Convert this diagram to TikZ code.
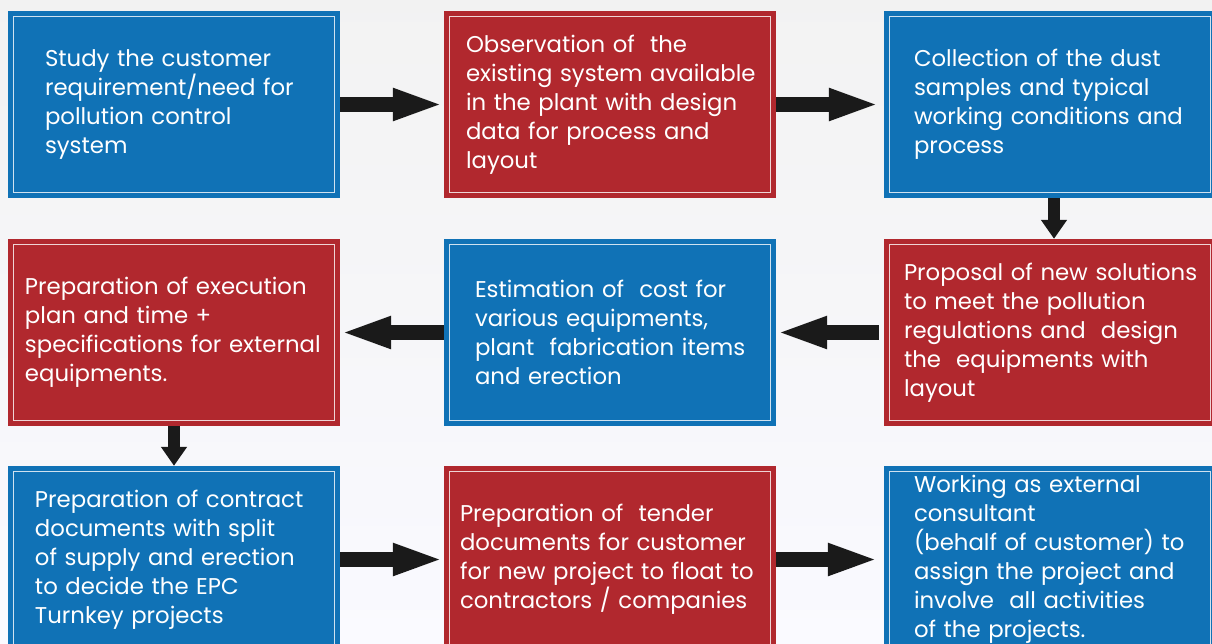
\documentclass[tikz,border=0pt]{standalone}
\usepackage{fontspec}
\setmainfont{Poppins}
\usetikzlibrary{arrows.meta}
\definecolor{stepblue}{RGB}{16,114,182}
\definecolor{stepred}{RGB}{177,40,46}
\definecolor{arrowgray}{RGB}{26,26,26}
\tikzset{
  stepbox/.style={rectangle, draw=none, minimum width=332pt, minimum height=187pt,
    inner xsep=0pt, inner ysep=0pt, text width=332pt, text=white, align=left,
    font=\fontsize{22.8}{29}\selectfont,
    path picture={\draw[white, opacity=.8, line width=1pt]
      ([shift={(5.5pt,5.5pt)}]path picture bounding box.south west) rectangle
      ([shift={(-5.5pt,-5.5pt)}]path picture bounding box.north east);}},
  bluebox/.style={stepbox, fill=stepblue},
  redbox/.style={stepbox, fill=stepred},
  indent/.style={execute at begin node={\leftskip=#1\relax\hyphenpenalty=10000\relax}},
  flowarrow/.style={draw=arrowgray, line width=15pt,
    -{Triangle[length=51pt,width=29pt]}, arrowgray},
  downarrow/.style={draw=arrowgray, line width=12.5pt,
    -{Triangle[length=19pt,width=25pt]}, arrowgray}
}
\begin{document}
\begin{tikzpicture}[x=1pt,y=1pt]
  \shade[top color=black!5, bottom color=blue!2!white] (0,0) rectangle (1212,-643);
  \useasboundingbox (0,0) rectangle (1212,-643);

  % first row
  \node[bluebox, indent=37pt] (study) at (174,-104.5)
    {Study the customer\\requirement/need for\\pollution control\\system};
  \node[redbox, indent=22pt] (observe) at (610,-104.5)
    {Observation of\ \ the\\existing system available\\in the plant with design\\data for process and\\layout};
  \node[bluebox, indent=30pt] (collect) at (1050,-104.5)
    {Collection of the dust\\samples and typical\\working conditions and\\process};

  % second row
  \node[redbox, indent=17pt] (plan) at (174,-332.5)
    {Preparation of execution\\plan and time +\\specifications for external\\equipments.};
  \node[bluebox, indent=31pt] (estimate) at (610,-332.5)
    {Estimation of\ \ cost for\\various equipments,\\plant\ \ fabrication items\\and erection};
  \node[redbox, indent=20pt] (propose) at (1050,-332.5)
    {Proposal of new solutions\\to meet the pollution\\regulations and\ \ design\\the\ \ equipments with\\layout};

  % third row
  \node[bluebox, indent=27pt] (contract) at (174,-559.5)
    {Preparation of contract\\documents with split\\of supply and erection\\to decide the EPC\\Turnkey projects};
  \node[redbox, indent=16pt] (tender) at (610,-559.5)
    {Preparation of\ \ tender\\documents for customer\\for new project to float to\\contractors / companies};
  \node[bluebox, indent=30pt] (consult) at (1050,-559.5)
    {Working as external\\consultant\\(behalf of customer) to\\assign the project and\\involve\ \ all activities\\of the projects.};

  % connectors
  \draw[flowarrow] (study) -- (observe);
  \draw[flowarrow, shorten >=4pt] (observe) -- (collect);
  \draw[downarrow] ([xshift=4pt]collect.south) -- ([xshift=4pt]propose.north);
  \draw[flowarrow, shorten <=5pt] (propose) -- (estimate);
  \draw[flowarrow] (estimate) -- (plan);
  \draw[downarrow] (plan) -- (contract);
  \draw[flowarrow] (contract) -- (tender);
  \draw[flowarrow, shorten >=5pt] (tender) -- (consult);
\end{tikzpicture}
\end{document}
